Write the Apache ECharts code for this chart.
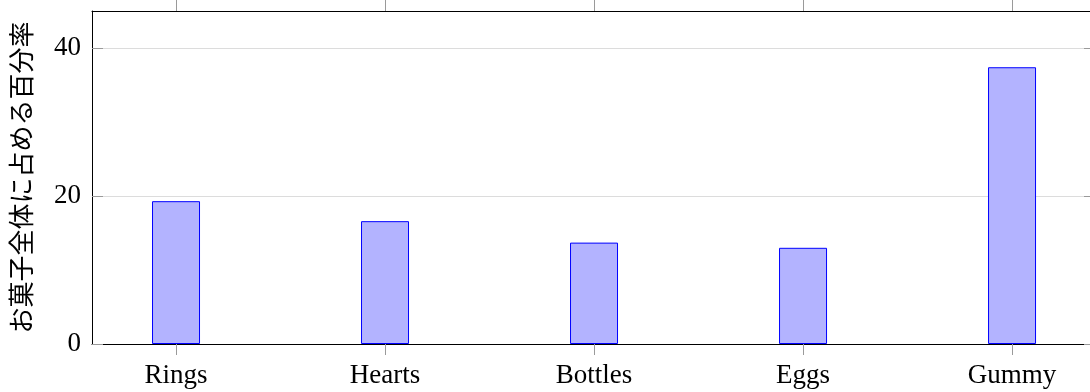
<!DOCTYPE html>
<html>
<head>
<meta charset="utf-8">
<script src="https://cdn.jsdelivr.net/npm/echarts@6/dist/echarts.min.js"></script>
<style>
  html, body { margin: 0; padding: 0; background: #fff; }
  #chart { width: 1090px; height: 392px; }
</style>
</head>
<body>
<div id="chart"></div>
<script>
// Candy shares (percent of total)
const categories = ['Rings', 'Hearts', 'Bottles', 'Eggs', 'Gummy'];
const shares = [19.3, 16.6, 13.7, 13.0, 37.4];
const yTicks = [0, 20, 40];
const yTitle = 'お菓子全体に占める百分率';

const positions = categories.map((_, i) => i);
const serif = '"Liberation Serif", "DejaVu Serif", serif';
const tickGray = '#9a9a9a';

const chart = echarts.init(document.getElementById('chart'), null, { renderer: 'canvas' });

// the frame runs a little past the right edge of the page
const xCommon = {
  type: 'value',
  min: -0.402,
  max: 4.373,
  splitLine: { show: false },
  axisLine: { show: true, onZero: false, lineStyle: { color: '#000', width: 1 } }
};

chart.setOption({
  animation: false,
  backgroundColor: '#fff',
  grid: { left: 92, top: 11, right: 0, bottom: 48, containLabel: false },
  xAxis: [
    Object.assign({}, xCommon, {
      position: 'bottom',
      axisTick: { show: true, inside: false, length: 11, customValues: positions,
                  lineStyle: { color: tickGray, width: 1 } },
      axisLabel: {
        show: true, customValues: positions, margin: 18,
        fontFamily: serif, fontSize: 27, color: '#000',
        formatter: v => categories[Math.round(v)]
      }
    }),
    Object.assign({}, xCommon, {
      position: 'top',
      axisTick: { show: true, inside: false, length: 11, customValues: positions,
                  lineStyle: { color: tickGray, width: 1 } },
      axisLabel: { show: false }
    })
  ],
  yAxis: [
    {
      type: 'value', min: 0, max: 45, position: 'left',
      name: yTitle, nameLocation: 'middle', nameRotate: 90, nameGap: 58,
      nameTextStyle: { fontFamily: '"Noto Sans CJK JP", sans-serif', fontSize: 26, color: '#000' },
      axisLine: { show: true, onZero: false, lineStyle: { color: '#000', width: 1 } },
      axisTick: { show: true, inside: true, length: 11, customValues: yTicks,
                  lineStyle: { color: tickGray, width: 1 } },
      axisLabel: { show: true, customValues: yTicks, margin: 11,
                   fontFamily: serif, fontSize: 27, color: '#000' },
      splitLine: { show: true, lineStyle: { color: '#dcdcdc', width: 1 } }
    },
    {
      type: 'value', min: 0, max: 45, position: 'right',
      axisLine: { show: false, onZero: false },
      axisTick: { show: true, inside: true, length: 6, customValues: yTicks,
                  lineStyle: { color: tickGray, width: 1 } },
      axisLabel: { show: false },
      splitLine: { show: false }
    }
  ],
  series: [{
    type: 'bar',
    xAxisIndex: 0,
    yAxisIndex: 0,
    barWidth: 48,
    data: shares.map((v, i) => [positions[i], v]),
    itemStyle: { color: '#b3b3ff', borderColor: '#0000ff', borderWidth: 1 }
  }]
});
</script>
</body>
</html>
